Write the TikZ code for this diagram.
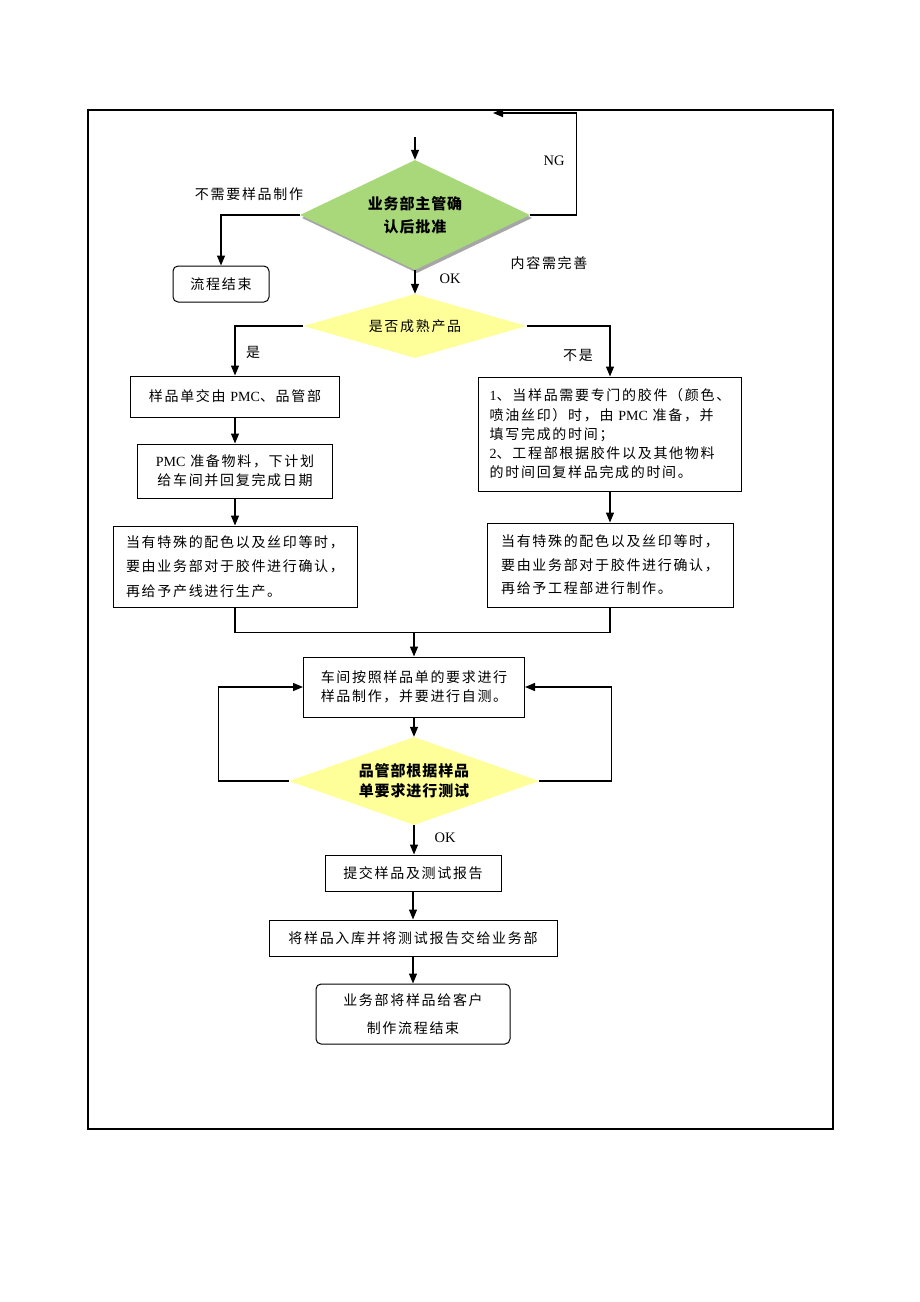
\documentclass[tikz,border=0pt]{standalone}
\usepackage{fontspec}
\setmainfont{Liberation Serif}
\newfontfamily\cjk[LetterSpace=12]{Noto Sans CJK SC}
\newfontfamily\cjkbold[LetterSpace=6]{Noto Sans CJK SC}
\newfontfamily\lat{Liberation Serif}
\usetikzlibrary{arrows.meta,shapes.geometric,shadows}
\definecolor{dgreen}{RGB}{169,216,122}
\definecolor{dyellow}{RGB}{255,255,153}
\begin{document}
\begin{tikzpicture}[x=1pt,y=-1pt,
  txt/.style={font=\fontsize{14}{16}\cjk, inner sep=0},
  lattxt/.style={font=\fontsize{14.5}{16}\lat, inner sep=0},
  box/.style={draw, line width=1pt, inner sep=0, align=center, font=\fontsize{14}{19}\cjk},
  rbox/.style={box, rounded corners=5pt},
  dia/.style={diamond, inner sep=0, align=center},
  arr/.style={line width=1.3pt, -{Triangle[length=10pt,width=8pt]}},
  ln/.style={line width=1.3pt}]
\useasboundingbox (0,0) rectangle (920,1302);
\draw[line width=1.8pt] (88,110) rectangle (833,1129);

% decision 1
\node[dia, aspect=2.1, fill=dgreen, minimum width=230, minimum height=110,
  font=\fontsize{15}{23}\cjkbold\bfseries,
  drop shadow={shadow xshift=2pt, shadow yshift=-3pt, fill=black!35, opacity=1}]
  (g) at (415,215) {业务部主管确\\认后批准};
\coordinate (in) at (415,137);
\coordinate (ngc) at (493,113);
\draw[arr] (in) -- (g.north);
\draw[arr] (g.east) -- ++(46,0) |- (ngc);

\node[rbox, minimum width=96, minimum height=36] (end) at (221,284) {流程结束};
\draw[arr] (g.west) -| (end.north);

\node[txt] (l1) at (249,194) {不需要样品制作};
\node[lattxt] (ng) at (554,161) {NG};
\node[txt] (nr) at (549,263) {内容需完善};
\node[lattxt] (ok1) at (450,279) {OK};

% decision 2
\node[dia, aspect=3.5, fill=dyellow, minimum width=223, minimum height=64,
  font=\fontsize{14}{16}\cjk] (d1) at (415,326) {是否成熟产品};
\draw[arr] (g.south) -- (d1.north);

\node[box, minimum width=209, minimum height=41] (L1) at (235,396.5) {样品单交由 {\lat PMC}、品管部};
\node[box, minimum width=195, minimum height=54] (L2) at (235,471) {{\lat PMC} 准备物料，下计划\\给车间并回复完成日期};
\node[box, minimum width=244, minimum height=81, align=left, font=\fontsize{14}{24.5}\cjk] (L3) at (235,566.5)
  {当有特殊的配色以及丝印等时，\\要由业务部对于胶件进行确认，\\再给予产线进行生产。};

\node[box, minimum width=263, minimum height=114, align=left, font=\fontsize{14}{19.3}\cjk] (R1) at (610,434)
  {{\lat 1}、当样品需要专门的胶件（颜色、\\喷油丝印）时，由 {\lat PMC} 准备，并\\填写完成的时间；\\{\lat 2}、工程部根据胶件以及其他物料\\的时间回复样品完成的时间。};
\node[box, minimum width=246, minimum height=84, align=left, font=\fontsize{14}{23.5}\cjk] (R2) at (610,565)
  {当有特殊的配色以及丝印等时，\\要由业务部对于胶件进行确认，\\再给予工程部进行制作。};

\node[txt] (yes) at (253,352) {是};
\node[txt] (no) at (578,355) {不是};

\draw[arr] (d1.west) -| (L1.north);
\draw[arr] (d1.east) -| (R1.north);
\draw[arr] (L1.south) -- (L2.north);
\draw[arr] (L2.south) -- (L3.north);
\draw[arr] (R1.south) -- (R2.north);

% merge
\node[box, minimum width=221, minimum height=60, align=left] (M1) at (414,687)
  {车间按照样品单的要求进行\\样品制作，并要进行自测。};
\draw[ln] (L3.south) -- ++(0,25) -| (R2.south);
\coordinate (mjy) at (0,632);
\coordinate (mj) at (M1.north |- mjy);
\draw[arr] (mj) -- (M1.north);

% decision 3
\node[dia, aspect=2.84, fill=dyellow, minimum width=250, minimum height=88,
  font=\fontsize{15}{20}\cjkbold\bfseries] (d2) at (414,781) {品管部根据样品\\单要求进行测试};
\draw[arr] (M1.south) -- (d2.north);
\draw[arr] (d2.west) -- ++(-70,0) |- (M1.west);
\draw[arr] (d2.east) -- ++(72,0) |- (M1.east);
\node[lattxt] (ok2) at (445,838) {OK};

\node[box, minimum width=176, minimum height=36] (B1) at (413,873) {提交样品及测试报告};
\node[box, minimum width=288, minimum height=36] (B2) at (413,938) {将样品入库并将测试报告交给业务部};
\node[rbox, minimum width=194, minimum height=60, font=\fontsize{14}{28}\cjk] (B3) at (413,1014) {业务部将样品给客户\\制作流程结束};
\draw[arr] (d2.south) -- (d2.south |- B1.north);
\draw[arr] (B1.south) -- (B2.north);
\draw[arr] (B2.south) -- (B3.north);
\end{tikzpicture}
\end{document}
